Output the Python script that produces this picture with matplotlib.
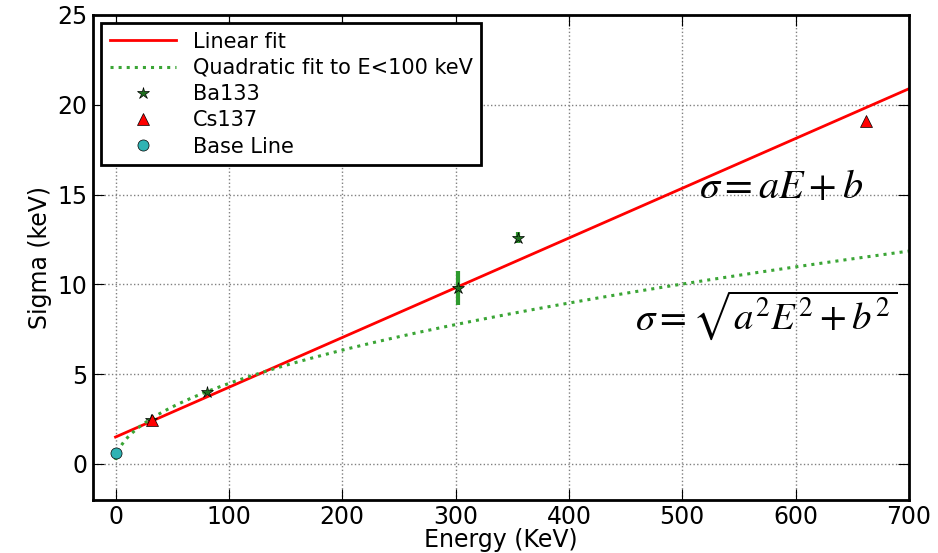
import numpy as np
import matplotlib.pyplot as plt

plt.rcParams['mathtext.fontset'] = 'stix'
plt.rcParams['xtick.direction'] = 'in'
plt.rcParams['ytick.direction'] = 'in'

# fit parameters
lin_a, lin_b = 0.0277, 1.5        # sigma = a*E + b
quad_a, quad_b = 0.2006, 0.05     # sigma^2 = a*E + b

# data points
ba_E = [31, 81, 302, 355]
ba_sig = [2.45, 4.0, 9.8, 12.6]
ba_err = [0.05, 0.05, 0.95, 0.3]
cs_E = [32, 662]
cs_sig = [2.45, 19.1]
base_E = [0]
base_sig = [0.62]

E = np.linspace(0, 700, 400)

fig = plt.figure(figsize=(9.38, 5.53), dpi=100)
ax = fig.add_axes([0.099, 0.096, 0.87, 0.877])

ax.plot(E, lin_a * E + lin_b, 'r-', lw=2, label='Linear fit')
ax.plot(E, np.sqrt(quad_a * E + quad_b), ':', color='#3aa535', lw=2.2,
        label='Quadratic fit to E<100 keV')
ax.errorbar(ba_E, ba_sig, yerr=ba_err, fmt='none', ecolor='#2e9a2e', elinewidth=3)
ax.plot(ba_E, ba_sig, '*', color='#1f6f1f', mec='k', mew=0.5, ms=9, ls='none',
        label='Ba133')
ax.plot(cs_E, cs_sig, '^', color='red', mec='k', mew=0.5, ms=8, ls='none', label='Cs137')
ax.plot(base_E, base_sig, 'o', color='#2fb3b3', mec='k', mew=0.5, ms=8, ls='none',
        label='Base Line')

ax.text(515, 15.4, r'$\sigma = aE + b$', fontsize=29, va='center')
ax.text(458, 8.3, r'$\sigma = \sqrt{a^2E^2 + b^2}$', fontsize=28, va='center')

ax.set_xlim(-20, 700)
ax.set_ylim(-2, 25)
ax.set_xticks(range(0, 701, 100))
ax.set_yticks(range(0, 26, 5))
ax.grid(True, ls=':', color='gray', lw=1)
ax.tick_params(labelsize=17, length=8, top=True, right=True, pad=4)
for s in ax.spines.values():
    s.set_linewidth(2)
ax.set_xlabel('Energy (KeV)', fontsize=17, labelpad=-1)
ax.set_ylabel('Sigma (keV)', fontsize=17, labelpad=4)

leg = ax.legend(loc='upper left', fontsize=15, numpoints=1, fancybox=False,
                framealpha=1, edgecolor='k', handlelength=3.2, borderaxespad=0.4,
                labelspacing=0.3)
leg.get_frame().set_linewidth(2)

fig.savefig('out.png', dpi=100)
